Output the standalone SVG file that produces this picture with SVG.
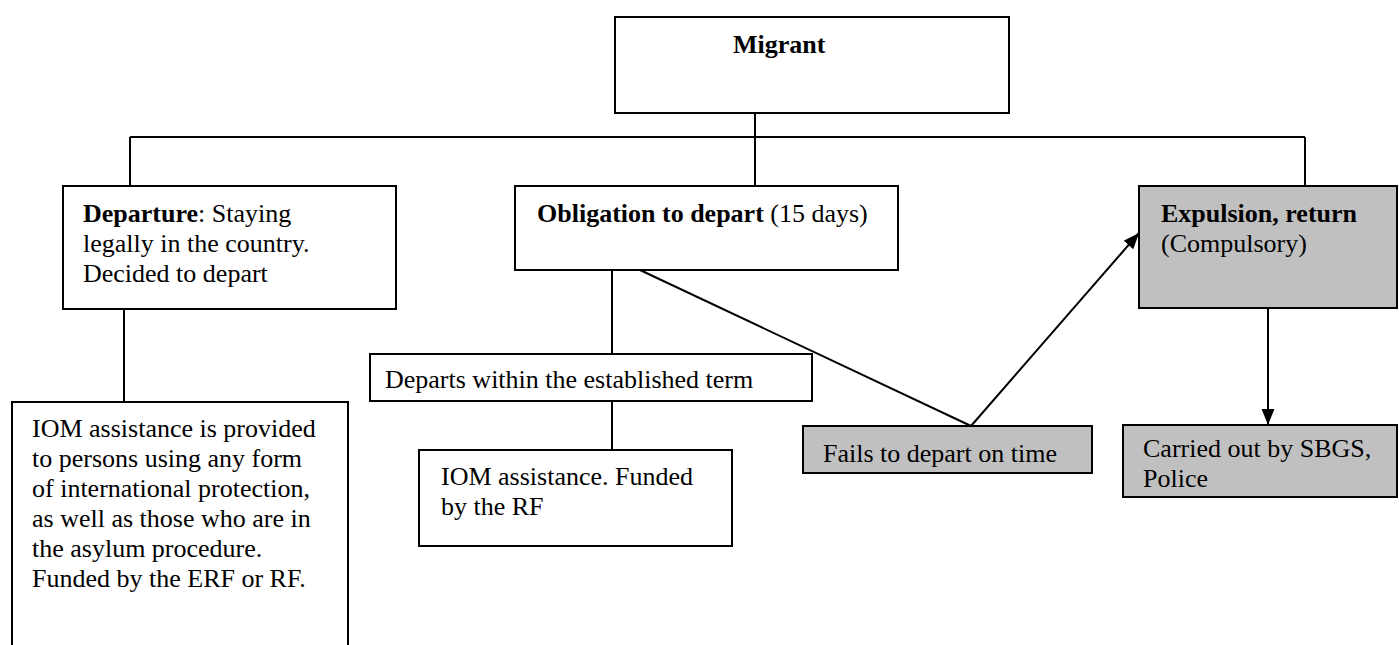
<svg xmlns="http://www.w3.org/2000/svg" width="1399" height="645" viewBox="0 0 1399 645">
<style>
.box{fill:#fff;stroke:#000;stroke-width:2}
.gbox{fill:#c0c0c0;stroke:#000;stroke-width:2}
.ln{fill:none;stroke:#000;stroke-width:2}
text{font-family:"Liberation Serif","Times New Roman",serif;font-size:26px;fill:#000}
.b{font-weight:bold}
</style>
<defs>
<marker id="ah2" viewBox="0 0 10 10" refX="10" refY="5" markerWidth="16" markerHeight="16" markerUnits="userSpaceOnUse" orient="auto">
<path d="M0,1 L10,5 L0,9 z" fill="#000"/>
</marker>
</defs>
<g id="connectors">
<line class="ln" x1="755" y1="113" x2="755" y2="186"/>
<line class="ln" x1="130" y1="137" x2="1305" y2="137"/>
<line class="ln" x1="130" y1="137" x2="130" y2="186"/>
<line class="ln" x1="1305" y1="137" x2="1305" y2="186"/>
<line class="ln" x1="124" y1="309" x2="124" y2="402"/>
<line class="ln" x1="612" y1="270" x2="612" y2="354"/>
<line class="ln" x1="612" y1="401" x2="612" y2="450"/>
<line class="ln" x1="640" y1="270" x2="971" y2="426"/>
<line class="ln" x1="971" y1="426" x2="1139" y2="233" marker-end="url(#ah2)"/>
<line class="ln" x1="1268" y1="308" x2="1268" y2="425" marker-end="url(#ah2)"/>
</g>
<g id="migrant">
<rect class="box" x="615" y="17" width="394" height="96"/>
<text class="b" x="733" y="53">Migrant</text>
</g>
<g id="departure">
<rect class="box" x="63" y="186" width="333" height="123"/>
<text x="83" y="222"><tspan class="b">Departure</tspan>: Staying</text>
<text x="83" y="252">legally in the country.</text>
<text x="83" y="282">Decided to depart</text>
</g>
<g id="obligation">
<rect class="box" x="515" y="186" width="383" height="84"/>
<text x="537" y="222"><tspan class="b">Obligation to depart</tspan> (15 days)</text>
</g>
<g id="expulsion">
<rect class="gbox" x="1139" y="186" width="258" height="122"/>
<text class="b" x="1161" y="222">Expulsion, return</text>
<text x="1161" y="252">(Compulsory)</text>
</g>
<g id="departs">
<rect class="box" x="370" y="354" width="442" height="47"/>
<text x="385" y="388">Departs within the established term</text>
</g>
<g id="iom-rf">
<rect class="box" x="419" y="450" width="313" height="96"/>
<text x="441" y="485">IOM assistance. Funded</text>
<text x="441" y="515">by the RF</text>
</g>
<g id="fails">
<rect class="gbox" x="803" y="426" width="289" height="47"/>
<text x="823" y="462">Fails to depart on time</text>
</g>
<g id="carried">
<rect class="gbox" x="1123" y="425" width="274" height="72"/>
<text x="1143" y="457">Carried out by SBGS,</text>
<text x="1143" y="487">Police</text>
</g>
<g id="iom-erf">
<rect class="box" x="12" y="402" width="336" height="260"/>
<text x="32" y="437">IOM assistance is provided</text>
<text x="32" y="467">to persons using any form</text>
<text x="32" y="497">of international protection,</text>
<text x="32" y="527">as well as those who are in</text>
<text x="32" y="557">the asylum procedure.</text>
<text x="32" y="587">Funded by the ERF or RF.</text>
</g>
</svg>
